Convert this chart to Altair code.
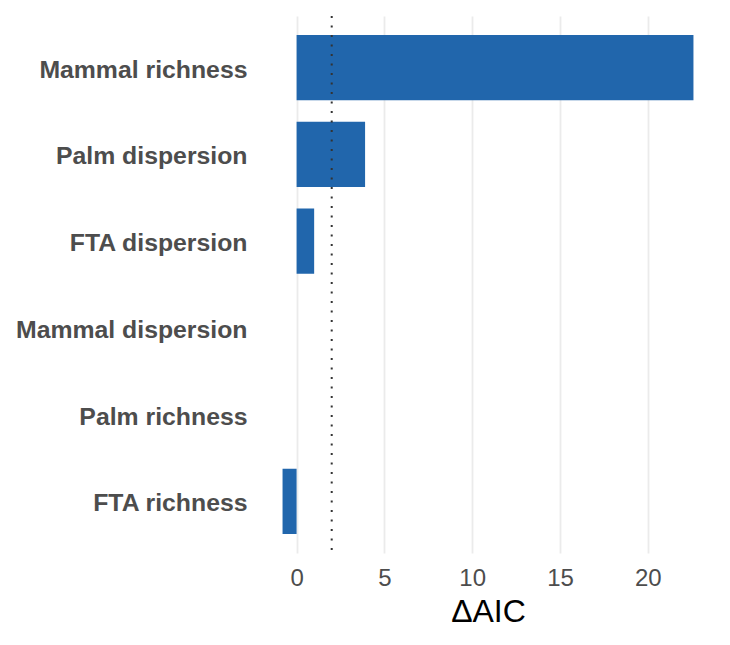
import altair as alt
import pandas as pd

categories = ["Mammal richness", "Palm dispersion", "FTA dispersion",
              "Mammal dispersion", "Palm richness", "FTA richness"]
delta_aic = [22.6, 3.9, 1.0, 0.0, 0.0, -0.8]
x_ticks = [0, 5, 10, 15, 20]
threshold = [2]

df = pd.DataFrame({"model": categories, "daic": delta_aic})
df_rule = pd.DataFrame({"t": threshold})

FONT = "Liberation Sans"

xscale = alt.Scale(domain=[-1.97, 23.77], nice=False, zero=False)

bars = alt.Chart(df).mark_bar(color="#2166ac").encode(
    x=alt.X("daic:Q", scale=xscale,
            axis=alt.Axis(values=x_ticks, title="ΔAIC", grid=True,
                          gridColor="#ebebeb", gridWidth=1.8,
                          domain=False, ticks=False,
                          labelFont=FONT, labelFontSize=24, labelColor="#4d4d4d",
                          labelPadding=13,
                          titleFont=FONT, titleFontSize=32, titleFontWeight="normal",
                          titleColor="#000000", titlePadding=6)),
    x2=alt.X2(datum=0),
    y=alt.Y("model:N", sort=categories,
            scale=alt.Scale(paddingInner=0.25, paddingOuter=0.22),
            axis=alt.Axis(title=None, domain=False, ticks=False, grid=False,
                          labelFont=FONT, labelFontSize=24.8, labelFontWeight="bold",
                          labelColor="#4d4d4d", labelPadding=15, labelLimit=400,
                          labelOffset=3)),
)

rule = alt.Chart(df_rule).mark_rule(color="#333333", strokeDash=[2, 7.5], strokeWidth=2).encode(
    x=alt.X("t:Q", scale=xscale)
)

chart = (bars + rule).properties(
    width=452, height=537,
    padding={"left": 7, "top": 7, "right": 5, "bottom": 5},
).configure(background="white").configure_view(strokeWidth=0, stroke="transparent")

chart.save("out.html", embed_options={"renderer": "svg", "actions": False})
